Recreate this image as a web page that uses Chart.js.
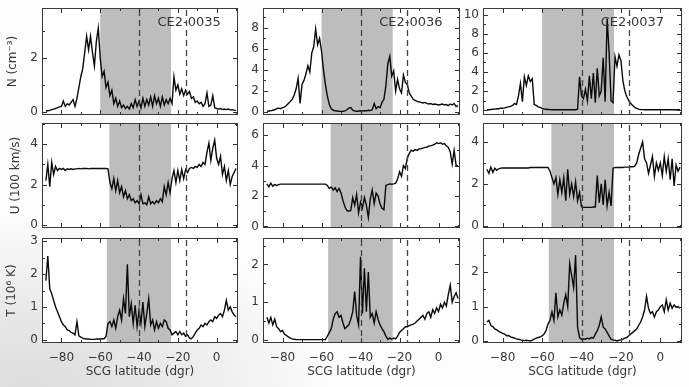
<!DOCTYPE html>
<html>
<head>
<meta charset="utf-8">
<title>CE2 latitude profiles</title>
<script src="https://cdn.jsdelivr.net/npm/chart.js@4.4.1/dist/chart.umd.min.js"></script>
<style>
  html, body { margin: 0; padding: 0; }
  body {
    width: 689px; height: 387px; overflow: hidden; position: relative;
    background: radial-gradient(ellipse 300px 170px at 30px 387px, #dcdcdc 0%, #e9e9e9 45%, rgba(250,250,250,0) 100%), #fcfcfc;
  }
  canvas { position: absolute; }
</style>
</head>
<body>
<script>
// latitude samples (deg) shared by all panels
const lat = [
  -88, -87, -86, -85, -84, -83, -82, -81, -80, -79,
  -78, -77, -76, -75, -74, -73, -72, -71, -70, -69,
  -68, -67, -66, -65, -64, -63, -62, -61, -60, -59,
  -58, -57, -56, -55, -54, -53, -52, -51, -50, -49,
  -48, -47, -46, -45, -44, -43, -42, -41, -40, -39,
  -38, -37, -36, -35, -34, -33, -32, -31, -30, -29,
  -28, -27, -26, -25, -24, -23, -22, -21, -20, -19,
  -18, -17, -16, -15, -14, -13, -12, -11, -10, -9,
  -8, -7, -6, -5, -4, -3, -2, -1, 0, 1,
  2, 3, 4, 5, 6, 7, 8, 9, 10
];

// density N (cm^-3)
const n0035 = [
  0.03, 0.04, 0.05, 0.08, 0.1, 0.12, 0.15, 0.18, 0.2, 0.4,
  0.2, 0.3, 0.25, 0.35, 0.45, 0.2, 0.5, 0.9, 1.3, 1.6,
  2.2, 2.8, 2.3, 2.8, 2.2, 1.7, 2.6, 3.1, 2.0, 1.3,
  1.5, 0.9, 1.1, 0.6, 0.8, 0.3, 0.5, 0.2, 0.4, 0.15,
  0.25, 0.12, 0.2, 0.1, 0.3, 0.15, 0.45, 0.2, 0.4, 0.15,
  0.5, 0.2, 0.45, 0.25, 0.55, 0.2, 0.6, 0.3, 0.5, 0.2,
  0.55, 0.25, 0.45, 0.3, 0.5, 0.3, 1.3, 0.8, 1.0, 0.65,
  0.85, 0.6, 0.8, 0.65, 0.75, 0.5, 0.55, 0.35, 0.4, 0.3,
  0.35, 0.2, 0.3, 0.7, 0.2, 0.25, 0.6, 0.15, 0.12, 0.1,
  0.12, 0.08, 0.1, 0.08, 0.1, 0.07, 0.08, 0.06, 0.05
];
const n0036 = [
  0.05, 0.08, 0.1, 0.15, 0.2, 0.3, 0.35, 0.3, 0.4, 0.45,
  0.6, 0.8, 1.0, 1.2, 1.6, 2.2, 3.2, 0.8, 2.6, 3.0,
  3.6, 4.4, 3.8, 5.6, 6.2, 7.9, 6.4, 7.0, 5.8, 4.0,
  2.6, 1.5, 0.7, 0.3, 0.15, 0.1, 0.08, 0.06, 0.05, 0.05,
  0.1, 0.2, 0.35, 0.4, 0.15, 0.08, 0.06, 0.08, 0.1, 0.08,
  0.12, 0.1, 0.15, 0.12, 0.2, 0.8, 0.3, 0.5, 0.4, 0.9,
  1.2, 2.5, 4.6, 5.3, 3.4, 3.9, 2.0, 3.1, 2.2, 1.8,
  3.5, 2.8, 2.6, 1.8, 1.5, 1.2, 1.1, 1.0, 0.95, 0.9,
  0.85, 0.9, 0.8, 0.75, 0.8, 0.7, 0.75, 0.7, 0.65, 0.7,
  0.75, 0.65, 0.7, 0.6, 0.75, 0.65, 0.8, 0.5, 0.6
];
const n0037 = [
  0.05, 0.05, 0.08, 0.1, 0.12, 0.15, 0.15, 0.2, 0.2, 0.25,
  0.3, 0.35, 0.4, 0.5, 0.7, 0.6, 1.5, 2.8, 0.9, 3.5,
  2.6, 3.6, 3.0, 3.3, 0.6, 0.5, 0.35, 0.3, 0.2, 0.12,
  0.1, 0.08, 0.06, 0.05, 0.05, 0.05, 0.05, 0.05, 0.05, 0.05,
  0.05, 0.05, 0.05, 0.05, 0.05, 0.05, 0.1, 3.5, 1.5, 1.2,
  2.2, 1.0, 3.6, 1.2, 3.9, 0.8, 4.4, 1.5, 2.0, 5.5,
  0.9, 9.6, 6.0, 1.0, 0.8, 5.6, 4.6, 5.8, 5.2, 3.1,
  2.0, 1.4, 1.0, 0.7, 0.5, 0.3, 0.2, 0.12, 0.08, 0.06,
  0.05, 0.05, 0.05, 0.05, 0.05, 0.05, 0.05, 0.05, 0.05, 0.05,
  0.05, 0.05, 0.05, 0.05, 0.05, 0.05, 0.05, 0.05, 0.05
];

// speed U (100 km/s)
const u0035 = [
  2.2, 3.0, 1.9, 3.1, 2.5, 2.9, 2.7, 2.8, 2.75, 2.8,
  2.7, 2.78, 2.75, 2.78, 2.75, 2.78, 2.78, 2.8, 2.78, 2.8,
  2.8, 2.8, 2.78, 2.8, 2.8, 2.8, 2.8, 2.8, 2.8, 2.8,
  2.8, 2.8, 2.78, 2.1, 1.8, 2.3, 1.7, 2.2, 1.6, 1.9,
  1.4, 1.7, 1.3, 1.5, 1.2, 1.3, 1.1, 1.2, 1.05, 1.5,
  1.05, 1.1, 1.0, 1.4, 1.05, 1.15, 1.05, 1.2, 1.1, 1.3,
  1.15, 1.9, 1.5, 2.1, 1.6, 2.3, 2.7, 2.1, 2.7, 2.2,
  2.75, 2.3, 2.75, 2.6, 2.8, 2.85, 2.8, 2.9, 2.85, 3.0,
  2.9, 3.1, 3.0, 3.6, 4.05, 3.2, 3.8, 4.2, 3.3, 3.0,
  3.4, 2.5, 2.9, 2.2, 2.7, 2.0, 2.4, 2.6, 2.8
];
const u0036 = [
  2.8, 2.6, 2.85, 2.65, 2.75, 2.7, 2.75, 2.78, 2.78, 2.78,
  2.78, 2.78, 2.78, 2.78, 2.78, 2.78, 2.78, 2.78, 2.78, 2.78,
  2.78, 2.78, 2.78, 2.78, 2.78, 2.78, 2.78, 2.78, 2.78, 2.78,
  2.78, 2.7, 2.5, 2.6, 2.4, 2.55, 2.3, 2.5, 2.2, 1.7,
  1.3, 1.05, 1.0, 1.05, 1.9, 1.4, 2.1, 0.9, 1.6, 1.2,
  1.9, 1.4, 0.6, 1.8, 2.4, 1.5, 2.2, 2.0, 1.5, 1.2,
  1.1, 2.7, 2.75, 2.8, 2.78, 2.8, 2.85, 3.1, 3.6, 3.3,
  4.0, 3.8, 4.5, 4.8, 5.0, 4.95, 5.05, 5.0, 5.1, 5.1,
  5.15, 5.2, 5.2, 5.3, 5.3, 5.35, 5.4, 5.5, 5.45, 5.5,
  5.4, 5.45, 5.3, 5.2, 4.9, 4.1, 5.0, 4.0, 4.0
];
const u0037 = [
  2.7, 2.5, 2.8, 2.55, 2.75, 2.65, 2.72, 2.75, 2.76, 2.76,
  2.76, 2.76, 2.76, 2.76, 2.76, 2.76, 2.76, 2.76, 2.76, 2.76,
  2.76, 2.76, 2.78, 2.78, 2.78, 2.78, 2.78, 2.78, 2.78, 2.78,
  2.78, 2.78, 2.6, 2.3, 2.0, 2.3, 1.5, 2.2, 1.6, 2.3,
  1.2, 2.7, 1.5, 2.0, 1.4, 2.1, 1.2, 1.6, 0.9, 0.88,
  0.88, 0.88, 0.88, 0.88, 0.9, 0.9, 2.4, 1.1, 2.0, 1.0,
  2.2, 0.95, 1.6, 0.95, 2.75, 2.78, 2.78, 2.78, 2.78, 2.78,
  2.8, 2.8, 2.8, 2.82, 2.82, 2.85, 3.0, 3.4, 3.7, 4.0,
  3.2, 3.0, 2.5, 2.9, 3.3, 2.35, 3.0, 2.65, 3.0, 2.4,
  3.3, 2.6, 3.2, 2.2, 3.2, 1.9, 2.9, 2.6, 2.8
];

// temperature T (10^6 K)
const t0035 = [
  1.8, 2.55, 1.55, 1.4, 1.2, 1.0, 0.85, 0.7, 0.55, 0.45,
  0.4, 0.3, 0.28, 0.22, 0.2, 0.15, 0.55, 0.12, 0.08, 0.05,
  0.03, 0.02, 0.02, 0.01, 0.01, 0.01, 0.02, 0.02, 0.02, 0.03,
  0.03, 0.1, 0.5, 0.55, 0.4, 0.6, 0.35, 0.7, 0.9, 0.6,
  1.25, 0.8, 2.3, 0.7, 1.1, 0.5, 1.05, 0.4, 0.9, 0.5,
  1.15, 0.4, 0.8, 1.25, 0.45, 0.6, 0.3, 0.55, 0.35, 0.5,
  0.4, 0.6, 0.55, 0.35, 0.3, 0.15, 0.2, 0.25, 0.15, 0.25,
  0.15, 0.2, 0.1, 0.15, 0.05, 0.03, 0.1, 0.2, 0.3, 0.35,
  0.45, 0.4, 0.5, 0.45, 0.55, 0.6, 0.55, 0.7, 0.65, 0.75,
  0.8, 0.7, 0.9, 1.2, 0.9, 1.0, 0.85, 0.75, 0.7
];
const t0036 = [
  0.6, 0.45, 0.6, 0.4, 0.55, 0.35, 0.3, 0.22, 0.25, 0.15,
  0.12, 0.08, 0.05, 0.03, 0.02, 0.01, 0.01, 0.01, 0.01, 0.01,
  0.01, 0.01, 0.01, 0.01, 0.01, 0.01, 0.01, 0.01, 0.01, 0.01,
  0.01, 0.1, 0.2, 0.3, 0.55, 0.7, 0.75, 0.6, 0.65, 0.45,
  0.3, 0.35, 0.4, 0.55, 0.75, 1.28, 0.65, 0.4, 2.2, 0.7,
  1.9, 0.75, 1.8, 0.6, 0.7, 0.45, 0.75, 0.55, 0.4, 0.3,
  0.22, 0.1, 0.02, 0.05, 0.02, 0.05, 0.03, 0.1, 0.2, 0.25,
  0.3, 0.35, 0.35, 0.38, 0.4, 0.42, 0.45, 0.5, 0.55, 0.6,
  0.65, 0.55, 0.7, 0.75, 0.6, 0.8, 0.7, 0.85, 0.75, 0.95,
  0.85, 1.0, 0.9, 1.2, 1.45, 1.0, 1.15, 1.25, 1.1
];
const t0037 = [
  0.55, 0.6, 0.45, 0.42, 0.35, 0.32, 0.28, 0.25, 0.22, 0.2,
  0.15, 0.16, 0.12, 0.1, 0.08, 0.06, 0.05, 0.03, 0.02, 0.01,
  0.02, 0.01, 0.0, 0.02, 0.05, 0.08, 0.1, 0.12, 0.15, 0.2,
  0.3, 0.5, 0.6, 0.85, 0.6, 1.4, 0.7, 0.9, 0.75, 1.1,
  1.35, 1.0, 2.25, 1.9, 1.55, 2.5, 0.4, 0.1, 0.05, 0.06,
  0.05, 0.08, 0.06, 0.1, 0.08, 0.2, 0.3, 0.45, 0.7, 0.4,
  0.35, 0.25, 0.15, 0.05, 0.03, 0.02, 0.0, 0.02, 0.03, 0.05,
  0.08, 0.1, 0.15, 0.2, 0.25, 0.3, 0.35, 0.45, 0.55, 0.7,
  0.9, 1.3, 0.95, 0.8, 0.85, 0.7, 0.85, 0.9, 1.0, 1.05,
  0.85, 1.2, 0.9, 1.1, 0.95, 1.05, 0.98, 1.0, 0.95
];

const orbits = ['CE2-0035', 'CE2-0036', 'CE2-0037'];
const rowTitles = ['N (cm\u207B\u00B3)', 'U (100 km/s)', 'T (10\u2076 K)'];
const shadeN = [-60, -23.5];
const shadeU = [-55.3, -23.5];
const shadeT = [-56.6, -23.5];
const dashLat = [-40, -16];
const xLabels = [-80, -60, -40, -20, 0];
const xMinor = [-90, -70, -50, -30, -10, 10];

const panels = [
  { row: 0, col: 0, vals: n0035, ymin: -0.12, ymax: 3.85, yt: [0, 2], ym: [1, 3], shade: shadeN },
  { row: 0, col: 1, vals: n0036, ymin: -0.3, ymax: 9.9, yt: [0, 2, 4, 6, 8], ym: [1, 3, 5, 7, 9], shade: shadeN },
  { row: 0, col: 2, vals: n0037, ymin: -0.5, ymax: 10.7, yt: [0, 2, 4, 6, 8, 10], ym: [1, 3, 5, 7, 9], shade: shadeN },
  { row: 1, col: 0, vals: u0035, ymin: -0.15, ymax: 5.05, yt: [0, 2, 4], ym: [1, 3, 5], shade: shadeU },
  { row: 1, col: 1, vals: u0036, ymin: -0.1, ymax: 6.8, yt: [0, 2, 4, 6], ym: [1, 3, 5], shade: shadeU },
  { row: 1, col: 2, vals: u0037, ymin: -0.1, ymax: 4.9, yt: [0, 2, 4], ym: [1, 3], shade: shadeU },
  { row: 2, col: 0, vals: t0035, ymin: -0.1, ymax: 3.1, yt: [0, 1, 2, 3], ym: [0.5, 1.5, 2.5], shade: shadeT },
  { row: 2, col: 1, vals: t0036, ymin: -0.08, ymax: 2.7, yt: [0, 1, 2], ym: [0.5, 1.5, 2.5], shade: shadeT },
  { row: 2, col: 2, vals: t0037, ymin: -0.06, ymax: 3.0, yt: [0, 1, 2], ym: [0.5, 1.5, 2.5], shade: shadeT }
];

// plot boxes in page pixels
const colBox = [[42, 196], [263, 197], [483, 199]];
const rowBox = [[8, 107], [123, 105], [238, 105]];
const titlePad = [6, 9, 5];

const txt = '#383838';
const fam = "'DejaVu Sans', sans-serif";
const fmt = v => (v < 0 ? '\u2212' + (-v) : String(v));

const decoPlugin = {
  id: 'deco',
  beforeDraw(chart) {
    const { ctx, chartArea: a } = chart;
    ctx.save();
    ctx.fillStyle = '#ffffff';
    ctx.fillRect(a.left, a.top, a.right - a.left, a.bottom - a.top);
    ctx.restore();
  },
  beforeDatasetsDraw(chart, args, opts) {
    const { ctx, chartArea: a, scales: { x } } = chart;
    const s0 = x.getPixelForValue(opts.shade[0]);
    const s1 = x.getPixelForValue(opts.shade[1]);
    ctx.save();
    ctx.fillStyle = '#bdbdbd';
    ctx.fillRect(s0, a.top, s1 - s0, a.bottom - a.top);
    ctx.restore();
  },
  afterDatasetsDraw(chart, args, opts) {
    const { ctx, chartArea: a, scales: { x, y } } = chart;
    ctx.save();
    if (opts.label) {
      ctx.fillStyle = txt;
      ctx.font = "13px " + fam;
      ctx.textAlign = 'center';
      ctx.textBaseline = 'middle';
      ctx.fillText(opts.label, x.getPixelForValue(dashLat[1]) + 3.5, a.top + 15);
    }
    // dashed markers
    ctx.strokeStyle = '#444';
    ctx.lineWidth = 1.3;
    ctx.setLineDash([6, 4]);
    dashLat.forEach(d => {
      const px = Math.round(x.getPixelForValue(d)) + 0.5;
      ctx.beginPath();
      ctx.moveTo(px, a.top + 2);
      ctx.lineTo(px, a.bottom);
      ctx.stroke();
    });
    ctx.setLineDash([]);
    // inward tick marks on all four sides
    ctx.strokeStyle = '#333';
    ctx.lineWidth = 1;
    const vtick = (v, len) => {
      const px = Math.round(x.getPixelForValue(v)) + 0.5;
      ctx.beginPath();
      ctx.moveTo(px, a.top); ctx.lineTo(px, a.top + len);
      ctx.moveTo(px, a.bottom); ctx.lineTo(px, a.bottom - len);
      ctx.stroke();
    };
    const htick = (v, len) => {
      const py = Math.round(y.getPixelForValue(v)) + 0.5;
      ctx.beginPath();
      ctx.moveTo(a.left, py); ctx.lineTo(a.left + len, py);
      ctx.moveTo(a.right, py); ctx.lineTo(a.right - len, py);
      ctx.stroke();
    };
    xLabels.forEach(v => vtick(v, 5));
    xMinor.forEach(v => vtick(v, 3));
    opts.yt.forEach(v => htick(v, 5));
    opts.ym.forEach(v => htick(v, 3));
    // frame
    ctx.strokeStyle = '#3a3a3a';
    ctx.strokeRect(Math.round(a.left) + 0.5, Math.round(a.top) + 0.5,
      Math.round(a.right - a.left) - 1, Math.round(a.bottom - a.top) - 1);
    ctx.restore();
  }
};

panels.forEach(p => {
  const [pl, pw] = colBox[p.col];
  const [pt, ph] = rowBox[p.row];
  const padL = p.col === 0 ? 42 : 22, padR = 3, padT = 3;
  const padB = p.row === 2 ? 44 : 3;
  const bottomRow = p.row === 2;

  const cv = document.createElement('canvas');
  cv.width = padL + pw + padR;
  cv.height = padT + ph + padB;
  cv.style.width = cv.width + 'px';
  cv.style.height = cv.height + 'px';
  cv.style.left = (pl - padL) + 'px';
  cv.style.top = (pt - padT) + 'px';
  document.body.appendChild(cv);

  new Chart(cv, {
    type: 'line',
    data: {
      datasets: [{
        data: lat.map((v, i) => ({ x: v, y: p.vals[i] })),
        borderColor: '#0a0a0a',
        borderWidth: 1.4,
        pointRadius: 0,
        tension: 0,
        fill: false
      }]
    },
    options: {
      responsive: false,
      animation: false,
      events: [],
      layout: { padding: { top: padT, right: padR, left: 0, bottom: 0 } },
      plugins: {
        legend: { display: false },
        tooltip: { enabled: false },
        deco: { shade: p.shade, yt: p.yt, ym: p.ym, label: p.row === 0 ? orbits[p.col] : '' }
      },
      scales: {
        x: {
          type: 'linear', min: -90, max: 11,
          grid: { display: false, drawTicks: false },
          border: { display: false },
          afterBuildTicks: s => { s.ticks = xLabels.map(v => ({ value: v })); },
          afterFit: s => { s.height = padB; s.paddingLeft = 0; s.paddingRight = 0; },
          ticks: { display: bottomRow, padding: 8, color: txt, font: { family: fam, size: 12 }, callback: fmt, maxRotation: 0, autoSkip: false },
          title: { display: bottomRow, text: 'SCG latitude (dgr)', color: txt, font: { family: fam, size: 12 }, padding: { top: 0, bottom: 8 } }
        },
        y: {
          type: 'linear', min: p.ymin, max: p.ymax,
          grid: { display: false, drawTicks: false },
          border: { display: false },
          afterBuildTicks: s => { s.ticks = p.yt.map(v => ({ value: v })); },
          afterFit: s => { s.width = padL; s.paddingTop = 0; s.paddingBottom = 0; },
          ticks: { padding: 4, color: txt, font: { family: fam, size: 12 }, callback: fmt, autoSkip: false },
          title: { display: p.col === 0, text: rowTitles[p.row], color: txt, font: { family: fam, size: 12 }, padding: { top: titlePad[p.row], bottom: 0 } }
        }
      }
    },
    plugins: [decoPlugin]
  });
});
</script>
</body>
</html>
